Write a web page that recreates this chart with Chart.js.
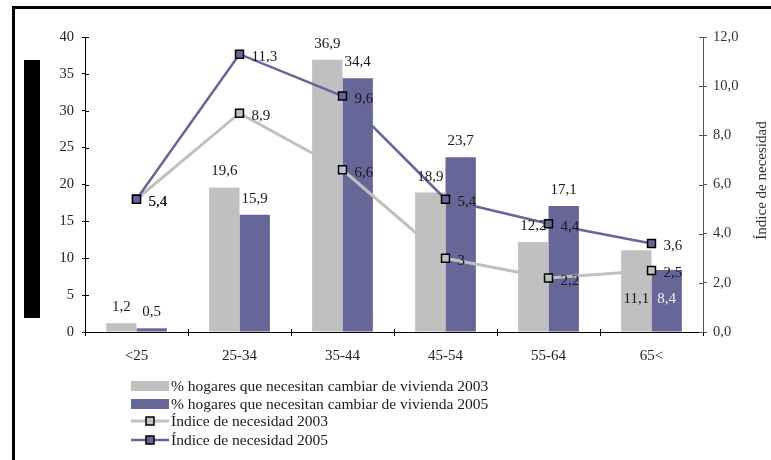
<!DOCTYPE html>
<html>
<head>
<meta charset="utf-8">
<script src="https://cdn.jsdelivr.net/npm/chart.js@4/dist/chart.umd.min.js"></script>
<style>
  html, body { margin: 0; padding: 0; background: #fff; }
  #wrap { position: relative; width: 771px; height: 460px; overflow: hidden; }
  #frameTop { position: absolute; left: 12px; top: 6px; right: 0; height: 3px; background: #000; }
  #frameLeft { position: absolute; left: 12px; top: 6px; width: 3px; bottom: 0; background: #000; }
  #blackBox { position: absolute; left: 24px; top: 60px; width: 16px; height: 258px; background: #000; }
  #chart { position: absolute; left: 0; top: 0; }
</style>
</head>
<body>
<div id="wrap">
  <canvas id="chart" width="771" height="460"></canvas>
  <div id="frameTop"></div>
  <div id="frameLeft"></div>
  <div id="blackBox"></div>
</div>
<script>
// data
const ageGroups = ['<25', '25-34', '35-44', '45-54', '55-64', '65<'];
const pct2003 = [1.2, 19.6, 36.9, 18.9, 12.2, 11.1];
const pct2005 = [0.5, 15.9, 34.4, 23.7, 17.1, 8.4];
const idx2003 = [5.4, 8.9, 6.6, 3, 2.2, 2.5];
const idx2005 = [5.4, 11.3, 9.6, 5.4, 4.4, 3.6];

const GRAY = '#c0c0c0', BLUE = '#666699';
const FONT = '"Liberation Serif", "Times New Roman", serif';
const fmt = v => String(v).replace('.', ',');

// value labels for bars and lines
const labelPlugin = {
  id: 'valueLabels',
  afterDatasetsDraw(chart) {
    const ctx = chart.ctx;
    const y2 = chart.scales.y;
    ctx.save();
    ctx.font = '15px ' + FONT;
    chart.data.datasets.forEach((ds, di) => {
      const meta = chart.getDatasetMeta(di);
      meta.data.forEach((el, i) => {
        const txt = fmt(ds.data[i]);
        if (ds.type === 'line') {
          ctx.fillStyle = '#1a1a1a';
          ctx.textAlign = 'left';
          ctx.textBaseline = 'middle';
          ctx.fillText(txt, el.x + 12, el.y + 3);
        } else {
          ctx.textAlign = 'center';
          ctx.textBaseline = 'middle';
          if (i === ageGroups.length - 1) {
            // last group: labels sit inside the bars
            ctx.fillStyle = ds.label.endsWith('2005') ? '#eeeeee' : '#1a1a1a';
            ctx.fillText(txt, el.x, y2.getPixelForValue(4.4));
          } else {
            ctx.fillStyle = '#1a1a1a';
            ctx.fillText(txt, el.x, el.y - 16);
          }
        }
      });
    });
    ctx.restore();
  }
};

// ticks crossing the axes, right title, legend
const decoPlugin = {
  id: 'deco',
  afterDraw(chart) {
    const ctx = chart.ctx;
    const a = chart.chartArea;
    const { x, y, y2 } = chart.scales;
    ctx.save();
    ctx.lineWidth = 1;
    ctx.strokeStyle = '#000';
    ctx.beginPath();
    y.ticks.forEach(t => {
      const py = Math.round(y.getPixelForValue(t.value)) + 0.5;
      ctx.moveTo(a.left, py); ctx.lineTo(a.left + 4, py);
    });
    for (let i = 1; i < ageGroups.length; i++) {
      const px = Math.round((x.getPixelForValue(i - 1) + x.getPixelForValue(i)) / 2) + 0.5;
      ctx.moveTo(px, a.bottom); ctx.lineTo(px, a.bottom - 3);
    }
    ctx.stroke();
    ctx.strokeStyle = '#555';
    ctx.beginPath();
    y2.ticks.forEach(t => {
      const py = Math.round(y2.getPixelForValue(t.value)) + 0.5;
      ctx.moveTo(a.right, py); ctx.lineTo(a.right - 4, py);
    });
    ctx.stroke();

    // right axis title, reading bottom to top
    ctx.font = '15px ' + FONT;
    ctx.fillStyle = '#333';
    ctx.textAlign = 'center';
    ctx.textBaseline = 'middle';
    ctx.translate(762, (a.top + a.bottom) / 2 - 4);
    ctx.rotate(-Math.PI / 2);
    ctx.fillText('Índice de necesidad', 0, 0);
    ctx.setTransform(1, 0, 0, 1, 0, 0);

    // legend
    const order = [2, 3, 1, 0];
    const rowY = [386, 404, 421, 440];
    ctx.font = '15.5px ' + FONT;
    ctx.textAlign = 'left';
    order.forEach((di, r) => {
      const ds = chart.data.datasets[di];
      const cy = rowY[r];
      if (ds.type === 'line') {
        ctx.strokeStyle = ds.borderColor;
        ctx.lineWidth = ds.borderWidth;
        ctx.beginPath(); ctx.moveTo(131, cy); ctx.lineTo(169, cy); ctx.stroke();
        ctx.fillStyle = ds.pointBackgroundColor;
        ctx.fillRect(146, cy - 4, 8, 8);
        ctx.strokeStyle = '#000';
        ctx.lineWidth = 1.5;
        ctx.strokeRect(146, cy - 4, 8, 8);
      } else {
        ctx.fillStyle = ds.backgroundColor;
        ctx.fillRect(131, cy - 5, 38, 10);
      }
      ctx.fillStyle = '#1a1a1a';
      ctx.fillText(ds.label, 171, cy + 1);
    });
    ctx.restore();
  }
};

const lineDs = (label, data, color, width, order) => ({
  type: 'line', label, data, yAxisID: 'y2', order,
  borderColor: color, borderWidth: width,
  pointStyle: 'rect', pointRadius: 5.6, pointHoverRadius: 5.6,
  pointBackgroundColor: color, pointBorderColor: '#000', pointBorderWidth: 1.5,
  tension: 0
});

new Chart(document.getElementById('chart'), {
  type: 'bar',
  data: {
    labels: ageGroups,
    datasets: [
      lineDs('Índice de necesidad 2005', idx2005, BLUE, 2.5, 0),
      lineDs('Índice de necesidad 2003', idx2003, GRAY, 3, 1),
      { label: '% hogares que necesitan cambiar de vivienda 2003', data: pct2003, backgroundColor: GRAY, yAxisID: 'y', order: 2,
        barPercentage: 1, categoryPercentage: 0.59 },
      { label: '% hogares que necesitan cambiar de vivienda 2005', data: pct2005, backgroundColor: BLUE, yAxisID: 'y', order: 3,
        barPercentage: 1, categoryPercentage: 0.59 }
    ]
  },
  options: {
    responsive: false, animation: false,
    layout: { padding: { left: 15, top: 37, right: 10, bottom: 0 } },
    plugins: { legend: { display: false }, tooltip: { enabled: false } },
    scales: {
      x: {
        grid: { drawOnChartArea: false, tickLength: 4, color: '#000' },
        border: { color: '#000' },
        ticks: { font: { family: FONT, size: 15 }, color: '#222', padding: 11 },
        afterFit: s => { s.height = 128; }
      },
      y: {
        position: 'left', min: 0, max: 40,
        grid: { drawOnChartArea: false, tickLength: 3, color: '#000' },
        border: { color: '#000' },
        ticks: { stepSize: 5, font: { family: FONT, size: 14.5 }, color: '#222', padding: 8 },
        afterFit: s => { s.width = 70; }
      },
      y2: {
        position: 'right', min: 0, max: 12,
        grid: { drawOnChartArea: false, tickLength: 4, color: '#555' },
        border: { color: '#555' },
        ticks: { stepSize: 2, font: { family: FONT, size: 14.5 }, color: '#333', padding: 6,
          callback: v => v.toFixed(1).replace('.', ',') },
        afterFit: s => { s.width = 58; }
      }
    }
  },
  plugins: [labelPlugin, decoPlugin]
});
</script>
</body>
</html>
